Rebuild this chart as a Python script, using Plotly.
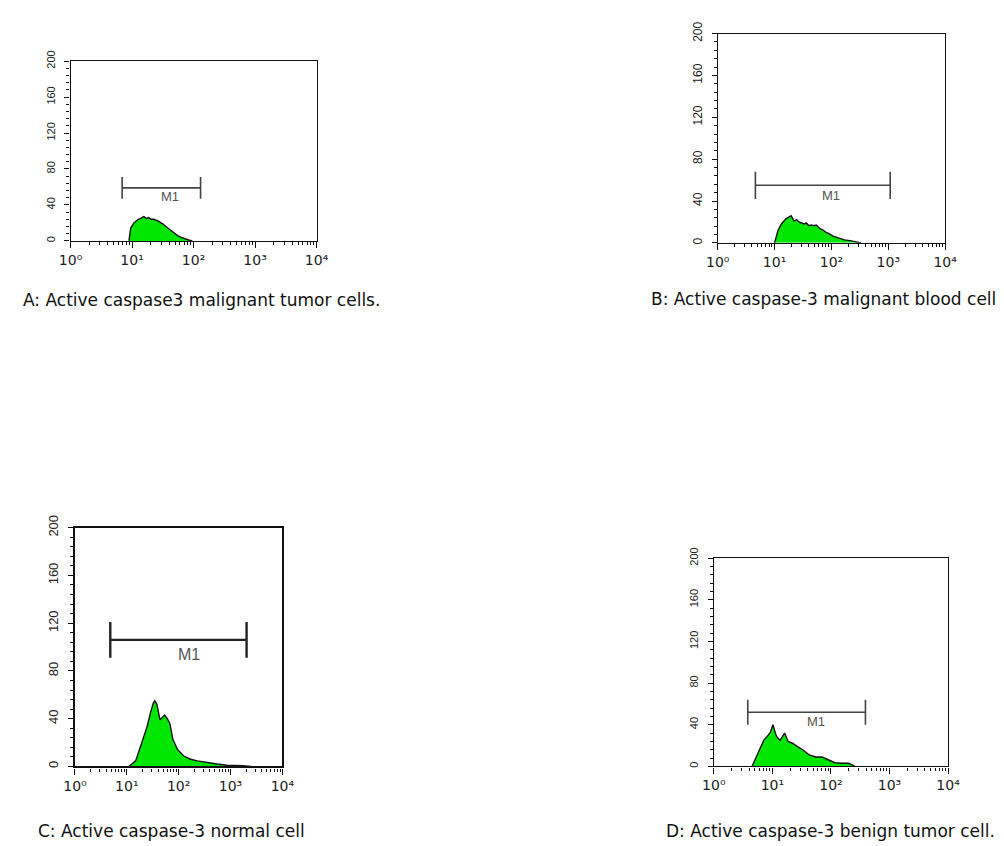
import math
import plotly.graph_objects as go

W, H = 1004, 846

# ---------------- data ----------------
# fluorescence intensity (FL channel) vs event count
A_x = [8.9, 9.5, 10.7, 11.5, 12.6, 13.8, 15.5, 17.0, 18.6, 20.4, 22.4, 24.5, 26.9,
       29.5, 31.6, 35.5, 38.9, 42.7, 46.8, 51.3, 56.2, 63.1, 70.8, 83.2, 95.5]
A_y = [0, 14, 20, 22, 24, 25, 27, 25, 26, 24, 24, 23, 22,
       20, 19, 16, 14, 11, 9, 7, 5.5, 4, 2.5, 1, 0]

B_x = [10, 11.5, 13.2, 15.8, 19.5, 21.9, 24.5, 26.9, 30, 33.1, 36, 39.8, 44,
       49, 54, 58.9, 65, 72.4, 80, 89.1, 107, 132, 170, 224, 288, 331]
B_y = [0, 12, 18, 23, 26, 21, 22, 20, 19, 18, 19, 16.5, 17,
       16.5, 17, 15, 13, 12, 10, 9, 6.5, 4.7, 2.8, 1.9, 0.9, 0]

C_x = [11.0, 14.8, 19.5, 22, 24.5, 28.2, 32.4, 34.7, 36.3, 38.0, 43.7, 47.9, 53.7,
       60.3, 67.6, 77.6, 95.5, 126, 170, 229, 355, 550, 851, 1200, 1738, 2512]
C_y = [0, 4.6, 20, 27, 33, 44, 53, 55, 53, 52, 39, 41, 43,
       40, 36, 22.5, 14, 8.7, 6, 4.6, 3, 2, 1, 1, 0.5, 0]

D_x = [4.5, 5.8, 7.1, 8.5, 9.3, 10.2, 11.7, 13.5, 16.2, 18.6, 22.4, 26.9, 33.1,
       42.7, 55, 70.8, 91.2, 117, 155, 200, 240, 257]
D_y = [0, 13, 25, 30, 33, 40, 29, 25, 32, 24, 22, 19, 16,
       11, 9, 9, 6, 3.5, 3, 3, 1, 0]

# M1 gate markers: [start, end], level, label position [x, y]
M1_A_range = [6.9, 130]
M1_A_level = 59
M1_A_label = [42, 49]
M1_B_range = [4.6, 1080]
M1_B_level = 55
M1_B_label = [98, 45]
M1_C_range = [4.8, 2040]
M1_C_level = 106
M1_C_label = [158, 94]
M1_D_range = [3.8, 388]
M1_D_level = 52
M1_D_label = [56, 43]

x_tickvals = [1, 10, 100, 1000, 10000]
x_ticktext = ["10\u2070", "10\u00b9", "10\u00b2", "10\u00b3", "10\u2074"]
y_tickvals = [0, 40, 80, 120, 160, 200]

captions = ["A: Active caspase3 malignant tumor cells.",
            "B: Active caspase-3 malignant blood cell",
            "C: Active caspase-3 normal cell",
            "D: Active caspase-3 benign tumor cell."]

# ---------------- layout of panels (pixels) ----------------
panels = [
    dict(x=A_x, y=A_y, rng=M1_A_range, lvl=M1_A_level, half=12, lab=M1_A_label,
         box=(60, 312, 49, 232), lw=1.3, mlw=1.6, mcol="#444", lfs=13, yfs=11, cap=(9, 292)),
    dict(x=B_x, y=B_y, rng=M1_B_range, lvl=M1_B_level, half=13, lab=M1_B_label,
         box=(723, 956, 21, 234), lw=1.3, mlw=1.6, mcol="#444", lfs=13, yfs=12, cap=(653, 291)),
    dict(x=C_x, y=C_y, rng=M1_C_range, lvl=M1_C_level, half=15, lab=M1_C_label,
         box=(64.5, 277, 524, 767), lw=2.4, mlw=2.4, mcol="#222", lfs=16, yfs=13, cap=(25, 833)),
    dict(x=D_x, y=D_y, rng=M1_D_range, lvl=M1_D_level, half=12, lab=M1_D_label,
         box=(719, 959, 555, 767), lw=1.3, mlw=1.6, mcol="#444", lfs=13, yfs=11, cap=(668, 833)),
]

fig = go.Figure()
annotations = []
for i, p in enumerate(panels):
    n = "" if i == 0 else str(i + 1)
    xa, ya = "x" + n, "y" + n
    x0, x1, y0, y1 = p["box"]
    fig.add_trace(go.Scatter(
        x=p["x"], y=p["y"], xaxis=xa, yaxis=ya, mode="lines",
        line=dict(color="#111", width=1.4),
        fill="tozeroy", fillcolor="#00e600", hoverinfo="skip", showlegend=False))
    s, e = p["rng"]
    lv, h = p["lvl"], p["half"]
    fig.add_trace(go.Scatter(
        x=[s, e, None, s, s, None, e, e],
        y=[lv, lv, None, lv - h, lv + h, None, lv - h, lv + h],
        xaxis=xa, yaxis=ya, mode="lines",
        line=dict(color=p["mcol"], width=p["mlw"]), hoverinfo="skip", showlegend=False))
    annotations.append(dict(
        x=math.log10(p["lab"][0]), y=p["lab"][1], xref=xa, yref=ya, text="M1",
        showarrow=False, font=dict(family="Liberation Sans", size=p["lfs"], color="#555"),
        xanchor="center", yanchor="middle"))
    axis_common = dict(showline=True, mirror=True, linecolor="#111", linewidth=p["lw"],
                       ticks="outside", tickcolor="#111", tickwidth=1.2, showgrid=False,
                       zeroline=False)
    fig.layout["xaxis" + n] = dict(
        type="log", range=[0, 4], domain=[x0 / W, x1 / W], anchor=ya,
        tickvals=x_tickvals, ticktext=x_ticktext, ticklen=6,
        tickfont=dict(family="DejaVu Sans", size=14, color="#222"),
        minor=dict(ticks="outside", dtick="D1", ticklen=3, tickcolor="#111", showgrid=False),
        **axis_common)
    fig.layout["yaxis" + n] = dict(
        range=[0, 200], domain=[1 - y1 / H, 1 - y0 / H], anchor=xa,
        tickvals=y_tickvals, tickangle=-90, ticklen=5, ticklabelstandoff=5,
        tickfont=dict(family="Liberation Sans", size=p["yfs"], color="#222"),
        minor=dict(ticks="outside", dtick=8, ticklen=3, tickcolor="#111", showgrid=False),
        **axis_common)
    cx, cy = p["cap"]
    annotations.append(dict(
        x=cx / W, y=1 - cy / H, xref="paper", yref="paper", text=captions[i],
        showarrow=False, xanchor="left", yanchor="middle",
        font=dict(family="DejaVu Sans", size=17, color="#111")))

fig.update_layout(
    width=W, height=H, margin=dict(l=0, r=0, t=0, b=0),
    paper_bgcolor="white", plot_bgcolor="white",
    annotations=annotations, showlegend=False)

fig.write_html("out.html", config={"displayModeBar": False},
               post_script="document.body.style.margin='0';document.body.style.overflow='hidden';")
